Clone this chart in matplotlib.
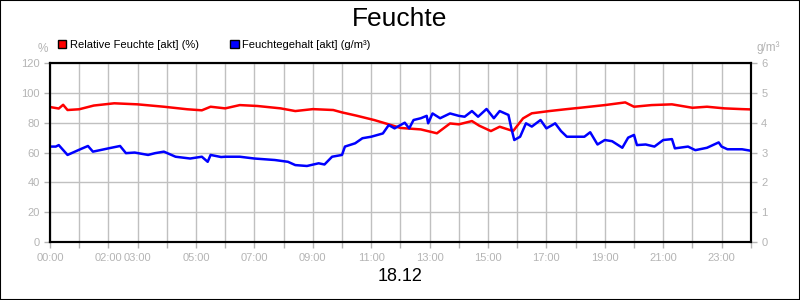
import matplotlib
matplotlib.use("Agg")
import matplotlib.pyplot as plt
from matplotlib.patches import Patch, Rectangle

plt.rcParams['font.family'] = ['Liberation Sans', 'DejaVu Sans']

# Relative Feuchte [%] (left axis)
rh_t = [0.0, 0.3, 0.45, 0.6, 1.0, 1.5, 2.2, 3.0, 3.9, 4.7, 5.2, 5.5, 6.0, 6.5, 7.1, 7.9, 8.4,
        9.0, 9.7, 10.0, 10.5, 11.1, 11.6, 12.0, 12.2, 12.7, 13.25, 13.7, 14.0, 14.45, 14.7,
        15.1, 15.4, 15.75, 15.86, 16.2, 16.5, 17.1, 17.7, 18.15, 19.0, 19.7, 20.0, 20.6,
        21.3, 22.0, 22.5, 23.1, 23.7, 24.0]
rh_v = [90.5, 89.5, 92.0, 88.5, 89.0, 91.5, 93.0, 92.3, 90.7, 89.0, 88.3, 90.7, 89.6, 91.8,
        91.2, 89.6, 87.8, 89.1, 88.5, 86.9, 84.7, 81.8, 78.9, 76.5, 76.2, 75.5, 72.9, 79.5,
        78.9, 81.1, 78.0, 74.4, 77.3, 75.1, 74.4, 82.9, 86.3, 87.8, 89.1, 90.0, 91.8, 93.6,
        90.7, 91.8, 92.3, 90.0, 90.7, 89.6, 89.1, 88.9]

# Feuchtegehalt [g/m3] (right axis)
ah_t = [0.0, 0.2, 0.3, 0.6, 1.06, 1.3, 1.47, 2.0, 2.4, 2.6, 2.9, 3.36, 3.6, 3.9, 4.3, 4.8,
        5.2, 5.4, 5.5, 5.86, 6.0, 6.5, 7.0, 7.7, 8.15, 8.4, 8.8, 9.2, 9.4, 9.66, 10.0, 10.1,
        10.45, 10.7, 11.0, 11.4, 11.6, 11.8, 12.0, 12.15, 12.3, 12.45, 12.7, 12.9, 12.95,
        13.1, 13.36, 13.7, 14.0, 14.2, 14.45, 14.66, 14.95, 15.2, 15.4, 15.7, 15.8, 15.9,
        16.1, 16.3, 16.5, 16.8, 17.0, 17.2, 17.3, 17.5, 17.7, 18.0, 18.3, 18.5, 18.75, 19.0,
        19.25, 19.6, 19.8, 20.0, 20.1, 20.4, 20.7, 21.0, 21.3, 21.4, 21.85, 22.1, 22.5,
        22.9, 23.0, 23.2, 23.45, 23.7, 24.0]
ah_v = [3.2, 3.2, 3.25, 2.92, 3.12, 3.22, 3.03, 3.14, 3.22, 2.98, 3.0, 2.92, 2.98, 3.03,
        2.86, 2.8, 2.86, 2.69, 2.92, 2.85, 2.86, 2.86, 2.8, 2.75, 2.69, 2.58, 2.55, 2.64,
        2.6, 2.86, 2.92, 3.2, 3.31, 3.48, 3.53, 3.64, 3.92, 3.81, 3.92, 4.0, 3.81, 4.09,
        4.15, 4.23, 3.98, 4.31, 4.15, 4.31, 4.23, 4.2, 4.39, 4.2, 4.46, 4.15, 4.39, 4.26,
        3.81, 3.42, 3.53, 3.98, 3.87, 4.09, 3.81, 3.92, 3.98, 3.72, 3.53, 3.53, 3.53, 3.68,
        3.27, 3.42, 3.38, 3.16, 3.5, 3.59, 3.25, 3.27, 3.2, 3.42, 3.45, 3.14, 3.2, 3.08,
        3.16, 3.34, 3.2, 3.11, 3.11, 3.11, 3.06]

hours = list(range(0, 25))
labeled = [0, 2, 3, 5, 7, 9, 11, 13, 15, 17, 19, 21, 23]
xlabels = ["%02d:00" % h if h in labeled else "" for h in hours]

grey = '#b4b4b4'
fig = plt.figure(figsize=(8, 3), dpi=100)
fig.patches.append(Rectangle((0, 0), 1, 1, transform=fig.transFigure, fill=False,
                             edgecolor='black', linewidth=1.5))
ax = fig.add_axes([0.0625, 0.193, 0.876, 0.597])
ax2 = ax.twinx()

ax.plot(rh_t, rh_v, color='#ff0000', lw=1.8)
ax2.plot(ah_t, ah_v, color='#0000ff', lw=1.8)

ax.set_xlim(0, 24)
ax.set_ylim(0, 120)
ax2.set_ylim(0, 6)
ax.set_xticks(hours)
ax.set_xticklabels(xlabels)
ax.set_yticks(range(0, 121, 20))
ax2.set_yticks(range(0, 7))
ax.grid(True, color='#c0c0c0', lw=1)
ax.set_axisbelow(True)

for a in (ax, ax2):
    a.tick_params(colors=grey, labelcolor=grey, labelsize=8, length=4, width=1)
    for s in a.spines.values():
        s.set_color('black')
        s.set_linewidth(1.5)

fig.text(0.5, 0.937, "Feuchte", ha='center', va='center', fontsize=19)
fig.text(0.5, 0.077, "18.12", ha='center', va='center', fontsize=13)
fig.text(0.054, 0.837, "%", ha='center', va='center', fontsize=8.5, color=grey)
fig.text(0.96, 0.84, "g/m³", ha='center', va='center', fontsize=8.5, color=grey)

handles = [Patch(facecolor='#ff0000', edgecolor='black', label='Relative Feuchte [akt] (%)'),
           Patch(facecolor='#0000ff', edgecolor='black', label='Feuchtegehalt [akt] (g/m³)')]
fig.legend(handles=handles, loc='center left', bbox_to_anchor=(0.072, 0.85), ncol=2,
           frameon=False, fontsize=8, handlelength=0.8, handleheight=0.8,
           handletextpad=0.3, columnspacing=2.8, borderaxespad=0, borderpad=0)

fig.savefig("out.png", dpi=100)
